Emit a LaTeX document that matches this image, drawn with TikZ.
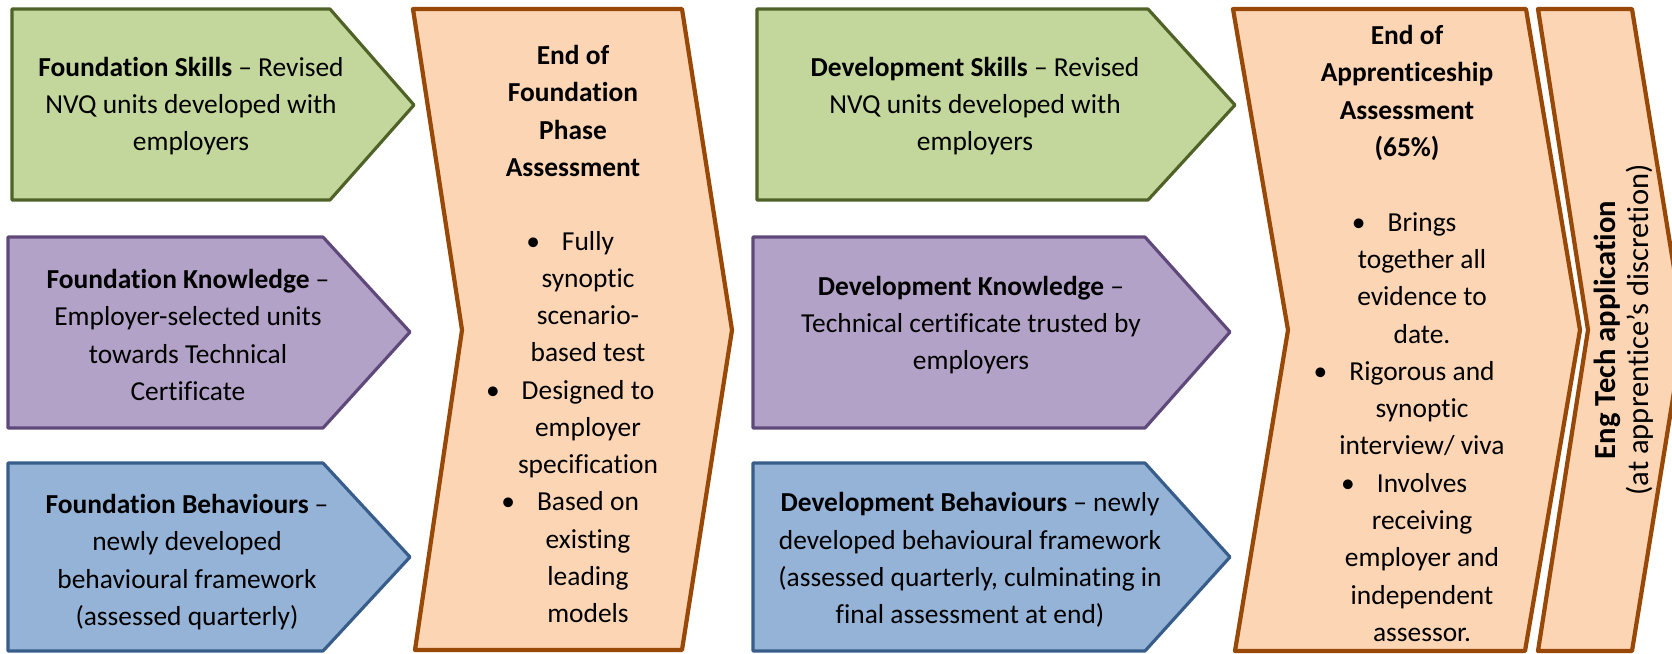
\documentclass[tikz,border=0pt]{standalone}
\usepackage{fontspec}
\setmainfont{Carlito}[Ligatures={TeX,NoCommon}]
\definecolor{skillfill}{HTML}{C3D69B}
\definecolor{skillline}{HTML}{4F6228}
\definecolor{knowfill}{HTML}{B3A2C7}
\definecolor{knowline}{HTML}{5F497A}
\definecolor{behavfill}{HTML}{95B3D7}
\definecolor{behavline}{HTML}{385D8A}
\definecolor{phasefill}{HTML}{FCD5B5}
\definecolor{phaseline}{HTML}{984807}
\newcommand{\bul}{\llap{\textbullet\hspace{0.22cm}}}
\begin{document}
\begin{tikzpicture}[x=0.01cm, y=-0.01cm,
    skillbox/.style={fill=skillfill, draw=skillline, line width=0.9pt, line join=round},
    knowbox/.style={fill=knowfill, draw=knowline, line width=0.9pt, line join=round},
    behavbox/.style={fill=behavfill, draw=behavline, line width=0.9pt, line join=round},
    phasebox/.style={fill=phasefill, draw=phaseline, line width=1.2pt, line join=round},
    txt/.style={align=center, inner sep=0pt, font=\fontsize{7.8}{10.6}\selectfont}]
  \useasboundingbox (0,0) rectangle (1672,653);
  \clip (0,0) rectangle (1672,653);
  \begin{scope}
    \draw[skillbox] (12,9) -- (330,9) -- (414,105) -- (330,200) -- (12,200) -- cycle;
    \draw[knowbox] (8,237) -- (323,237) -- (410,332) -- (323,428) -- (8,428) -- cycle;
    \draw[behavbox] (8,463) -- (323,463) -- (410,557) -- (323,651) -- (8,651) -- cycle;
    \draw[phasebox] (413,9) -- (682,9) -- (732,330) -- (682,650) -- (415,650) -- (462,330) -- cycle;
    \draw[skillbox] (757,9) -- (1148,9) -- (1235,105) -- (1148,200) -- (757,200) -- cycle;
    \draw[knowbox] (753,237) -- (1145,237) -- (1230,332) -- (1145,428) -- (753,428) -- cycle;
    \draw[behavbox] (753,463) -- (1145,463) -- (1230,557) -- (1145,651) -- (753,651) -- cycle;
    \draw[phasebox] (1233,9) -- (1526,9) -- (1580,330) -- (1525,651) -- (1235,651) -- (1288,330) -- cycle;
    \draw[phasebox] (1538,9) -- (1632,9) -- (1684,330) -- (1632,651) -- (1538,651) -- (1588,330) -- cycle;
  \end{scope}
  \node[txt] (fskills) at (191,106) {\textbf{Foundation Skills} -- Revised\\NVQ units developed with\\employers};
  \node[txt] (fknow) at (188,335) {\textbf{Foundation Knowledge} --\\Employer-selected units\\towards Technical\\Certificate};
  \node[txt] (fbehav) at (187,562) {\textbf{Foundation Behaviours} --\\newly developed\\behavioural framework\\(assessed quarterly)};
  \node[txt] (fphase) at (573,111) {\textbf{End of}\\\textbf{Foundation}\\\textbf{Phase}\\\textbf{Assessment}};
  \node[txt] (fphaselist) at (588,427) {\bul Fully\\synoptic\\scenario-\\based test\\\bul Designed to\\employer\\specification\\\bul Based on\\existing\\leading\\models};
  \node[txt] (dskills) at (975,106) {\textbf{Development Skills} -- Revised\\NVQ units developed with\\employers};
  \node[txt] (dknow) at (971,325) {\textbf{Development Knowledge} --\\Technical certificate trusted by\\employers};
  \node[txt] (dbehav) at (970,560) {\textbf{Development Behaviours} -- newly\\developed behavioural framework\\(assessed quarterly, culminating in\\final assessment at end)};
  \node[txt] (aphase) at (1407,93) {\textbf{End of}\\\textbf{Apprenticeship}\\\textbf{Assessment}\\\textbf{(65\%)}};
  \node[txt] (aphaselist) at (1422,427) {\bul Brings\\together all\\evidence to\\date.\\\bul Rigorous and\\synoptic\\interview/ viva\\\bul Involves\\receiving\\employer and\\independent\\assessor.};
  \node[txt, rotate=90, font=\fontsize{8.7}{9.4}\selectfont] (engtech) at (1624,330) {\textbf{Eng Tech application}\\(at apprentice’s discretion)};
\end{tikzpicture}
\end{document}
